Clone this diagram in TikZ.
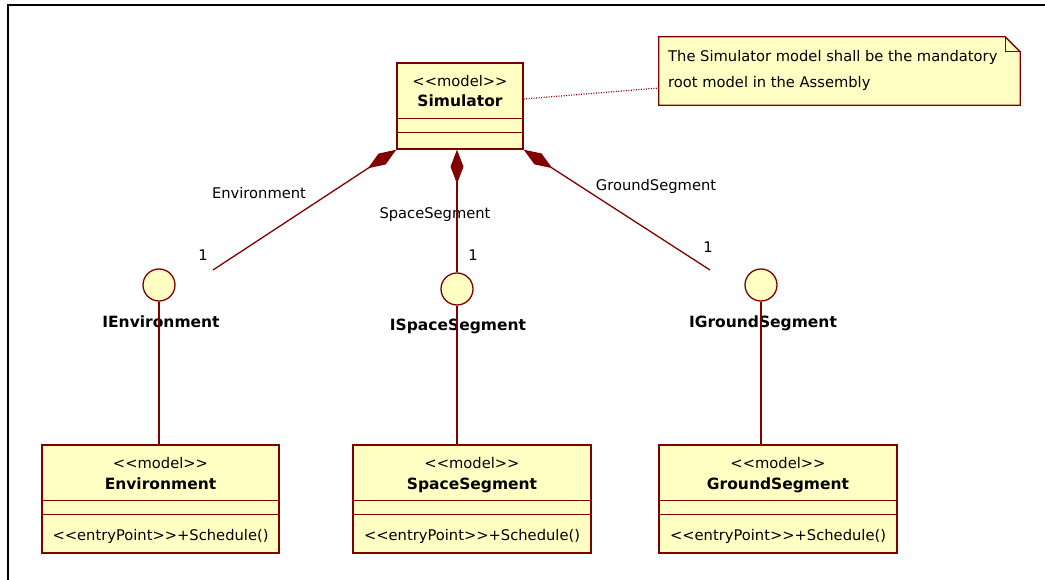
\documentclass[tikz,border=0pt]{standalone}
\usepackage{fontspec}
\setmainfont{DejaVu Sans}
\usetikzlibrary{arrows.meta,calc}
\definecolor{umlred}{RGB}{128,0,0}
\definecolor{umlfill}{RGB}{255,255,196}

\begin{document}
\begin{tikzpicture}[x=1pt,y=-1pt,
  classbox/.style={draw=umlred, fill=umlfill, line width=1.4pt, inner sep=0pt, rectangle},
  iface/.style={draw=umlred, fill=umlfill, line width=1.3pt, circle, inner sep=0pt, minimum size=32pt},
  reg/.style={font=\fontsize{14.7}{17}\selectfont, inner sep=0pt, anchor=base},
  bold/.style={font=\fontsize{15.5}{18}\selectfont\bfseries, inner sep=0pt, anchor=base},
  link/.style={draw=umlred, line width=1.3pt},
  compo/.style={link, {Diamond[length=34pt,width=13pt]}-},
  sep/.style={draw=umlred, line width=1.3pt}
]
\useasboundingbox (0,0) rectangle (1045,580);

% outer frame (top and left edges)
\draw[line width=2pt] (8,580) -- (8,5) -- (1045,5);

% root model
\node[classbox, minimum width=126pt, minimum height=86pt] (sim) at (460,106) {};
\node[reg] (simst) at (460,86.5) {{<}{<}model{>}{>}};
\node[bold] (simname) at (460,107) {Simulator};
\draw[sep] ($(sim.north west)+(0,56)$) -- ++(128,0);
\draw[sep] ($(sim.north west)+(0,70)$) -- ++(128,0);

% note
\node[minimum width=361pt, minimum height=68pt, inner sep=0pt] (note) at (839.5,71) {};
\fill[umlfill] (note.north west) -- ($(note.north east)+(-15,0)$) -- ($(note.north east)+(0,15)$)
  -- (note.south east) -- (note.south west) -- cycle;
\draw[umlred, line width=1.3pt] (note.north west) -- ($(note.north east)+(-15,0)$) -- ($(note.north east)+(0,15)$)
  -- (note.south east) -- (note.south west) -- cycle;
\draw[umlred, line width=1.1pt] ($(note.north east)+(-15,0)$) -- ($(note.north east)+(-15,15)$) -- ($(note.north east)+(0,15)$);
\node[reg, anchor=base west] (notel1) at (668,61.5) {The Simulator model shall be the mandatory};
\node[reg, anchor=base west] (notel2) at (668,88) {root model in the Assembly};
\draw[umlred, line width=1.2pt, dash pattern=on 1pt off 1.5pt] ($(sim.east)+(0,-7)$) -- ($(note.west)+(0,17)$);

% provided interfaces
\node[iface] (ienv) at (159,285) {};
\node[iface] (ispace) at (457,289) {};
\node[iface] (iground) at (761,285) {};
\node[bold] (ienvl) at (161,327.5) {IEnvironment};
\node[bold] (ispacel) at (458,330.5) {ISpaceSegment};
\node[bold] (igroundl) at (763,327.5) {IGroundSegment};

% composition associations
\coordinate (envend) at (213,270);
\coordinate (gndend) at (710,270);
\draw[compo] (sim.south west) -- (envend);
\draw[compo] (sim.south -| ispace.north) -- (ispace.north);
\draw[compo] (sim.south east) -- (gndend);
\node[reg] (envrole) at (259,198.5) {Environment};
\node[reg] (spacerole) at (435,218.5) {SpaceSegment};
\node[reg] (gndrole) at (656,190.5) {GroundSegment};
\node[reg] (envmult) at (203,260.5) {1};
\node[reg] (spacemult) at (473,260.5) {1};
\node[reg] (gndmult) at (708,252.5) {1};

% implementing models
\foreach \n/\cx/\w/\name in {env/160.5/237/Environment, space/472/238/SpaceSegment, ground/778/238/GroundSegment}{
  \node[classbox, minimum width=\w pt, minimum height=108pt] (\n) at (\cx,499) {};
  \node[reg] (\n st) at (\cx,468) {{<}{<}model{>}{>}};
  \node[bold] (\n name) at (\cx,489) {\name};
  \draw[sep] ($(\n.north west)+(0,56)$) -- ++(\w+2,0);
  \draw[sep] ($(\n.north west)+(0,70)$) -- ++(\w+2,0);
  \node[reg] (\n op) at (\cx,540) {{<}{<}entryPoint{>}{>}+Schedule()};
}

% realisations
\draw[link] (ienv.south) -- (env.north -| ienv.south);
\draw[link] (ispace.south) -- (space.north -| ispace.south);
\draw[link] (iground.south) -- (ground.north -| iground.south);
\end{tikzpicture}
\end{document}
